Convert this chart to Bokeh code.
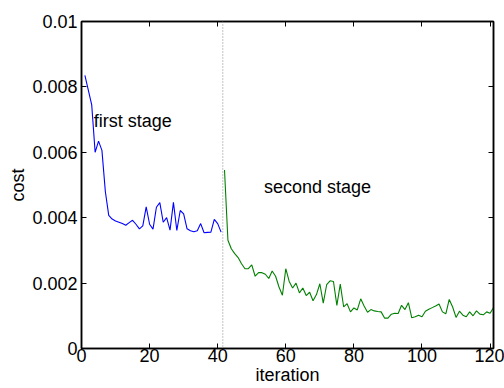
from bokeh.plotting import figure
from bokeh.models import (LinearAxis, Span, FixedTicker, CustomJSTickFormatter, Range1d,
                          ColumnDataSource, CustomLabelingPolicy)
from bokeh.core.properties import value
from bokeh.embed import file_html
from bokeh.resources import INLINE

# ---- data ----
first_iter = list(range(1, 42))
first_cost = [0.00835, 0.0079, 0.00745, 0.0060, 0.00634, 0.00606, 0.0048, 0.00407, 0.00396, 0.0039,
              0.00386, 0.00382, 0.00377, 0.00385, 0.00392, 0.0038, 0.00366, 0.00375, 0.00433, 0.0038,
              0.00365, 0.00432, 0.00446, 0.00386, 0.0040, 0.00362, 0.00447, 0.00361, 0.00422, 0.00412,
              0.00366, 0.0036, 0.00357, 0.0036, 0.00382, 0.00354, 0.00355, 0.00356, 0.00395, 0.00382,
              0.00356]
second_iter = list(range(42, 122))
second_cost = [0.00546, 0.00331, 0.00305, 0.0029, 0.00278, 0.00259, 0.00244, 0.00244, 0.00256, 0.00221,
               0.00232, 0.00232, 0.00227, 0.00214, 0.00237, 0.00221, 0.00188, 0.00163, 0.00244, 0.00205,
               0.00185, 0.0020, 0.0017, 0.00185, 0.00162, 0.00172, 0.00146, 0.00165, 0.00198, 0.00139,
               0.00195, 0.00207, 0.00205, 0.00132, 0.00197, 0.00127, 0.00137, 0.00112, 0.00124, 0.00118,
               0.00152, 0.0013, 0.00111, 0.00119, 0.00115, 0.00113, 0.00112, 0.00093, 0.00093, 0.00105,
               0.00108, 0.00107, 0.00132, 0.00119, 0.0014, 0.00094, 0.00097, 0.00102, 0.00097, 0.00114,
               0.0012, 0.00125, 0.0013, 0.00136, 0.00112, 0.00106, 0.0015, 0.00127, 0.00095, 0.00114,
               0.00102, 0.00097, 0.00112, 0.0010, 0.00115, 0.00105, 0.00103, 0.00112, 0.00108, 0.00125]
x_ticks = [0, 20, 40, 60, 80, 100, 120]
y_ticks = [0, 0.002, 0.004, 0.006, 0.008, 0.01]
y_tick_labels = ["0", "0.002", "0.004", "0.006", "0.008", "0.01"]
stage_boundary = 41.5
stage_names = ["first stage", "second stage"]
x_limits = [0, 121]
y_limits = [0, 0.01]

FONT = "Liberation Sans"
FS = "18px"

p = figure(width=504, height=388, output_backend="svg", toolbar_location=None,
           x_range=Range1d(*x_limits), y_range=Range1d(*y_limits),
           min_border_left=81, min_border_right=11, min_border_top=21, min_border_bottom=40,
           background_fill_color="white", border_fill_color="white")
p.grid.visible = False
p.outline_line_color = "black"
p.outline_line_width = 1.5

p.line(first_iter, first_cost, line_color="#0000ff", line_width=1.1)
p.line(second_iter, second_cost, line_color="#008000", line_width=1.1)
p.add_layout(Span(location=stage_boundary, dimension="height", line_color="#888888",
                  line_dash="1 2", line_width=1))

label_src = ColumnDataSource(dict(x=[3.6, 53.6], y=[0.00697, 0.00493], text=stage_names))
p.text(x="x", y="y", text="text", source=label_src, text_font=value(FONT),
       text_font_size=FS, text_color="black", text_align="left", text_baseline="alphabetic")

def style_axis(ax):
    ax.axis_line_color = "black"
    ax.axis_line_width = 1.5
    ax.major_tick_line_color = "black"
    ax.major_tick_in = 5
    ax.major_tick_out = 0
    ax.minor_tick_in = 0
    ax.minor_tick_out = 0
    ax.major_label_text_font = FONT
    ax.major_label_text_font_size = FS
    ax.major_label_text_color = "black"
    ax.axis_label_text_font = FONT
    ax.axis_label_text_font_size = FS
    ax.axis_label_text_font_style = "normal"
    ax.axis_label_text_color = "black"

xa = p.xaxis[0]
xa.ticker = FixedTicker(ticks=x_ticks)
xa.axis_label = "iteration"
style_axis(xa)
xa.major_label_standoff = 0
xa.axis_label_standoff = 0

ya = p.yaxis[0]
ya.ticker = FixedTicker(ticks=y_ticks)
ya.formatter = CustomJSTickFormatter(args=dict(tick_values=y_ticks, tick_texts=y_tick_labels), code="""
    let best = 0; let d = Infinity;
    for (let i = 0; i < tick_values.length; i++) {
        const e = Math.abs(tick_values[i] - tick);
        if (e < d) { d = e; best = i; }
    }
    return tick_texts[best];
""")
ya.axis_label = "cost"
style_axis(ya)
ya.major_label_standoff = 4
ya.axis_label_standoff = 1

top = LinearAxis(ticker=FixedTicker(ticks=x_ticks))
style_axis(top)
top.major_label_text_font_size = "0px"
top.major_label_standoff = 0
top.major_label_policy = CustomLabelingPolicy(code="return new Set()")
p.add_layout(top, "above")

right = LinearAxis(ticker=FixedTicker(ticks=y_ticks))
style_axis(right)
right.major_label_text_font_size = "0px"
right.major_label_standoff = 0
right.major_label_policy = CustomLabelingPolicy(code="return new Set()")
p.add_layout(right, "right")

open("out.html", "w").write(file_html(p, INLINE))
